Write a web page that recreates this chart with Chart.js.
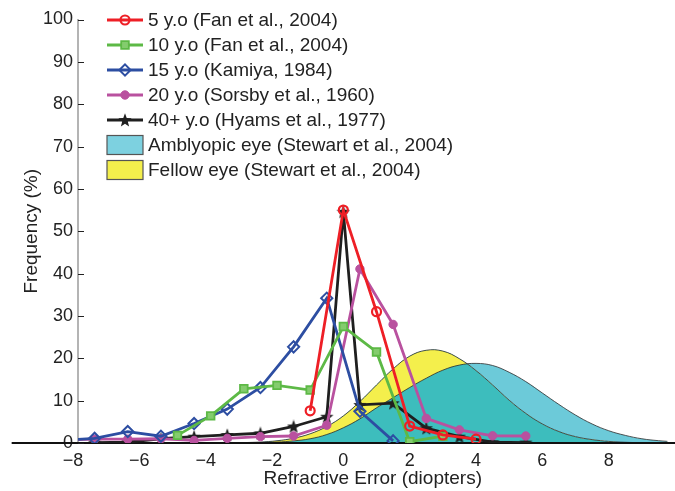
<!DOCTYPE html>
<html>
<head>
<meta charset="utf-8">
<script src="https://cdn.jsdelivr.net/npm/chart.js@4.4.0/dist/chart.umd.min.js"></script>
<style>
html, body { margin: 0; padding: 0; background: #fff; }
#wrap { width: 675px; height: 491px; }
</style>
</head>
<body>
<div id="wrap"><canvas id="chart" width="675" height="491"></canvas></div>
<script>
// tick labels
const xTicks = [-8, -6, -4, -2, 0, 2, 4, 6, 8];
const yTicks = [0, 10, 20, 30, 40, 50, 60, 70, 80, 90, 100];

// age series (refractive error in diopters, frequency in %)
const age5X = [-1, 0, 1, 2, 3, 4];
const age5Y = [7.6, 55.0, 31.0, 4.0, 1.9, 0.9];
const age10X = [-5, -4, -3, -2, -1, 0, 1, 2, 3];
const age10Y = [1.8, 6.4, 12.8, 13.6, 12.5, 27.5, 21.5, 0.3, 1.6];
const age15X = [-8.5, -7.5, -6.5, -5.5, -4.5, -3.5, -2.5, -1.5, -0.5, 0.5, 1.5];
const age15Y = [0.6, 1.1, 2.7, 1.6, 4.6, 8.0, 13.1, 22.7, 34.2, 7.5, 0.5];
const age20X = [-8.5, -7.5, -6.5, -5.5, -4.5, -3.5, -2.5, -1.5, -0.5, 0.5, 1.5, 2.5, 3.5, 4.5, 5.5];
const age20Y = [0.7, 0.9, 0.9, 1.0, 0.6, 1.1, 1.5, 1.65, 4.2, 41.1, 28.0, 5.8, 3.1, 1.7, 1.65];
const age40X = [-7.5, -6.5, -5.5, -4.5, -3.5, -2.5, -1.5, -0.5, 0, 0.5, 1.5, 2.5, 3.5, 4.5, 5.5];
const age40Y = [0.1, 0.2, 1.0, 1.5, 1.9, 2.3, 3.9, 6.2, 54.6, 9.0, 9.4, 3.5, 1.5, 0.2, 0.1];

// Stewart et al. distributions
const curveX = [-3, -2.5, -2, -1.5, -1, -0.5, 0, 0.5, 1, 1.5, 2, 2.5, 3, 3.5, 4, 4.5, 5, 5.5, 6, 6.5, 7, 7.5, 8, 8.5, 9, 9.5, 10];
const amblyY = [0.05, 0.1, 0.22, 0.5, 1.0, 2.0, 3.6, 5.7, 8.3, 10.7, 13.1, 15.3, 17.2, 18.4, 18.8, 18.3, 16.7, 14.5, 11.8, 9.1, 6.6, 4.5, 2.9, 1.8, 1.0, 0.55, 0.28];
const fellowY = [0.09, 0.23, 0.53, 1.13, 2.18, 3.9, 6.4, 9.8, 13.7, 17.5, 20.5, 21.9, 21.7, 19.9, 17.1, 13.7, 10.1, 7.0, 4.5, 2.7, 1.5, 0.8, 0.38, 0.17, 0.07, 0.03, 0.01];

// zero line, drawn past the left axis
const baselineX = [-10, 10];
const baselineY = [0, 0];

const RED = "#ee1f26";
const GREEN = "#5db946";
const BLUE = "#2d4ea2";
const MAGENTA = "#b9519f";
const BLACK = "#1f1f1f";
const CYAN = "#6ccad9";
const TEAL = "#3dbdbd";
const YELLOW = "#f4ef4c";
const TEXT = "#222";
const FONT = "'Liberation Sans', Arial, sans-serif";

const toPoints = (xs, ys) => xs.map((x, i) => ({ x: x, y: ys[i] }));

function makeStar(size, color) {
    const c = document.createElement("canvas");
    c.width = size;
    c.height = size;
    const g = c.getContext("2d");
    const r = size / 2;
    g.beginPath();
    for (let i = 0; i < 10; i++) {
        const rad = i % 2 === 0 ? r : r * 0.42;
        const a = -Math.PI / 2 + i * Math.PI / 5;
        g.lineTo(r + rad * Math.cos(a), r + rad * 1.05 * Math.sin(a) + 0.6);
    }
    g.closePath();
    g.fillStyle = color;
    g.fill();
    return c;
}
const star = makeStar(14, BLACK);

function seriesDataset(label, xs, ys, color, marker, order) {
    return Object.assign({
        label: label,
        data: toPoints(xs, ys),
        borderColor: color,
        borderWidth: 2.8,
        pointBorderColor: color,
        tension: 0,
        fill: false,
        order: order
    }, marker);
}

const datasets = [
    seriesDataset("5 y.o (Fan et al., 2004)", age5X, age5Y, RED,
        { pointStyle: "circle", pointRadius: 4.5, pointBorderWidth: 2.2, pointBackgroundColor: "rgba(255,255,255,0)" }, 1),
    seriesDataset("10 y.o (Fan et al., 2004)", age10X, age10Y, GREEN,
        { pointStyle: "rect", pointRadius: 5.4, pointBorderWidth: 1.8, pointBackgroundColor: "#84cc6e" }, 2),
    seriesDataset("15 y.o (Kamiya, 1984)", age15X, age15Y, BLUE,
        { pointStyle: "rectRot", pointRadius: 5.6, pointBorderWidth: 2, pointBackgroundColor: "rgba(255,255,255,0)" }, 2),
    seriesDataset("20 y.o (Sorsby et al., 1960)", age20X, age20Y, MAGENTA,
        { pointStyle: "circle", pointRadius: 4.2, pointBorderWidth: 1, pointBackgroundColor: MAGENTA }, 2),
    seriesDataset("40+ y.o (Hyams et al., 1977)", age40X, age40Y, BLACK,
        { pointStyle: star, pointRadius: 6, pointBorderWidth: 0, pointBackgroundColor: BLACK }, 3),
    {
        label: "Amblyopic eye (Stewart et al., 2004)",
        data: toPoints(curveX, amblyY),
        borderColor: "#2b2b2b",
        borderWidth: 0.8,
        pointRadius: 0,
        tension: 0.4,
        backgroundColor: CYAN,
        legendFill: "#7dd1e0",
        fill: { target: 6, above: CYAN, below: YELLOW },
        order: 5
    },
    {
        label: "Fellow eye (Stewart et al., 2004)",
        data: toPoints(curveX, fellowY),
        borderColor: "#2b2b2b",
        borderWidth: 0.8,
        pointRadius: 0,
        tension: 0.4,
        backgroundColor: TEAL,
        legendFill: YELLOW,
        fill: "origin",
        order: 6
    },
    {
        label: "",
        data: toPoints(baselineX, baselineY),
        borderColor: "#111",
        borderWidth: 2,
        pointRadius: 0,
        clip: false,
        fill: false,
        order: 4
    }
];

// legend drawn inside the plot, MATLAB style (line + marker in the middle)
const insideLegend = {
    id: "insideLegend",
    afterDraw(chart) {
        const ctx = chart.ctx;
        const area = chart.chartArea;
        const x0 = area.left + 29;
        const x1 = area.left + 65;
        ctx.save();
        ctx.font = "19px " + FONT;
        ctx.textBaseline = "middle";
        chart.data.datasets.forEach((ds, i) => {
            if (!ds.label) return;
            const y = area.top + 0.5 + i * 25;
            if (ds.legendFill) {
                ctx.fillStyle = ds.legendFill;
                ctx.fillRect(x0, y - 9.5, x1 - x0, 19);
                ctx.strokeStyle = "#555";
                ctx.lineWidth = 1.2;
                ctx.strokeRect(x0, y - 9.5, x1 - x0, 19);
            } else {
                ctx.strokeStyle = ds.borderColor;
                ctx.lineWidth = ds.borderWidth;
                ctx.beginPath();
                ctx.moveTo(x0, y);
                ctx.lineTo(x1, y);
                ctx.stroke();
                ctx.fillStyle = ds.pointBackgroundColor;
                ctx.strokeStyle = ds.pointBorderColor;
                ctx.lineWidth = ds.pointBorderWidth;
                Chart.helpers.drawPoint(ctx, {
                    pointStyle: ds.pointStyle,
                    radius: ds.pointRadius,
                    rotation: 0,
                    borderWidth: ds.pointBorderWidth
                }, (x0 + x1) / 2, y);
            }
            ctx.fillStyle = TEXT;
            ctx.fillText(ds.label, x1 + 5, y + 1);
        });
        ctx.restore();
    }
};

// MATLAB puts the y ticks inside the axes
const innerTicks = {
    id: "innerTicks",
    afterDraw(chart) {
        const ctx = chart.ctx;
        const yScale = chart.scales.y;
        const left = chart.chartArea.left;
        ctx.save();
        ctx.strokeStyle = "#222";
        ctx.lineWidth = 1;
        yTicks.forEach(v => {
            const y = Math.round(yScale.getPixelForValue(v)) + 0.5;
            ctx.beginPath();
            ctx.moveTo(left, y);
            ctx.lineTo(left + 6, y);
            ctx.stroke();
        });
        ctx.restore();
    }
};

Chart.defaults.font.family = FONT;
Chart.defaults.color = TEXT;

new Chart(document.getElementById("chart").getContext("2d"), {
    type: "line",
    data: { datasets: datasets },
    options: {
        responsive: false,
        animation: false,
        devicePixelRatio: 1,
        layout: { padding: { top: 19.5, right: 0, bottom: 0, left: 0 } },
        plugins: {
            legend: { display: false },
            tooltip: { enabled: false },
            filler: { drawTime: "beforeDatasetsDraw" }
        },
        scales: {
            x: {
                type: "linear",
                min: -8,
                max: 9.77,
                afterBuildTicks: scale => { scale.ticks = xTicks.map(v => ({ value: v })); },
                afterFit: scale => { scale.height = 48; },
                grid: { display: false, drawTicks: false },
                border: { display: false },
                ticks: {
                    autoSkip: false,
                    maxRotation: 0,
                    padding: 7,
                    color: TEXT,
                    font: { size: 18 },
                    // digit sits on the tick, minus hangs to the left
                    callback: v => v < 0 ? "\u2212" + Math.abs(v) + "\u2007" : String(v)
                },
                title: {
                    display: true,
                    text: "Refractive Error (diopters)",
                    color: TEXT,
                    font: { size: 19 },
                    padding: { top: 0, bottom: 1 }
                }
            },
            y: {
                min: 0,
                max: 100,
                afterBuildTicks: scale => { scale.ticks = yTicks.map(v => ({ value: v })); },
                afterFit: scale => { scale.width = 78; },
                grid: { display: false, drawTicks: false },
                border: { display: true, color: "#b4b4b4", width: 2 },
                ticks: {
                    autoSkip: false,
                    padding: 5,
                    color: TEXT,
                    font: { size: 18 }
                },
                title: {
                    display: true,
                    text: "Frequency (%)",
                    color: TEXT,
                    font: { size: 19 },
                    padding: { top: 20, bottom: 0 }
                }
            }
        }
    },
    plugins: [insideLegend, innerTicks]
});
</script>
</body>
</html>
